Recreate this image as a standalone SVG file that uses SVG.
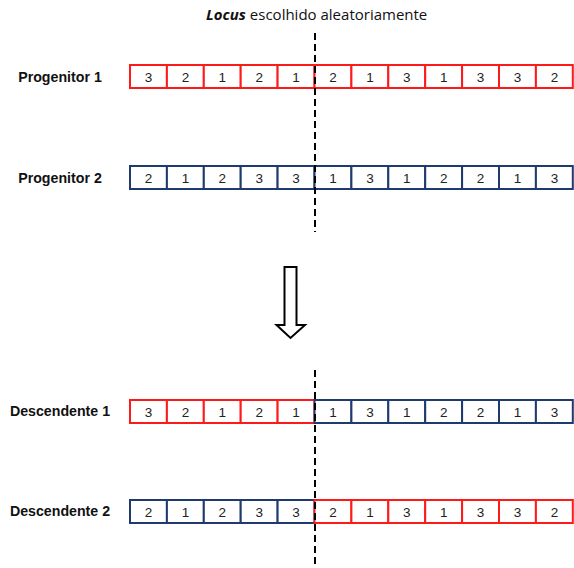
<svg xmlns="http://www.w3.org/2000/svg" width="574" height="568" viewBox="0 0 574 568">
  <style>
    .lbl { font-family: "Liberation Sans", Arial, sans-serif; font-weight: bold; font-size: 14.2px; fill: #111; text-anchor: middle; }
    .num { font-family: "Liberation Sans", Arial, sans-serif; font-size: 13.5px; fill: #222; text-anchor: middle; }
    .title { font-family: "Open Sans", "Liberation Sans", sans-serif; font-size: 15px; fill: #111; }
    .red rect { fill: #fff; stroke: #ff1a1a; stroke-width: 2; }
    .blue rect { fill: #fff; stroke: #1f3a6e; stroke-width: 2; }
    .cut { stroke: #000; stroke-width: 2; stroke-dasharray: 7 4; fill: none; }
  </style>

  <text class="title" x="206" y="20"><tspan font-weight="bold" font-style="italic">Locus</tspan> escolhido aleatoriamente</text>

  <!-- Parent 1 -->
  <g id="progenitor1">
    <text class="lbl" x="60" y="82">Progenitor 1</text>
    <g class="red">
      <rect x="130" y="65" width="36.9" height="23"/><rect x="166.9" y="65" width="36.9" height="23"/>
      <rect x="203.8" y="65" width="36.9" height="23"/><rect x="240.7" y="65" width="36.9" height="23"/>
      <rect x="277.6" y="65" width="36.9" height="23"/><rect x="314.5" y="65" width="36.9" height="23"/>
      <rect x="351.4" y="65" width="36.9" height="23"/><rect x="388.3" y="65" width="36.9" height="23"/>
      <rect x="425.2" y="65" width="36.9" height="23"/><rect x="462.1" y="65" width="36.9" height="23"/>
      <rect x="499" y="65" width="36.9" height="23"/><rect x="535.9" y="65" width="36.9" height="23"/>
    </g>
    <g class="num">
      <text x="148.5" y="81.5">3</text><text x="185.4" y="81.5">2</text><text x="222.3" y="81.5">1</text>
      <text x="259.2" y="81.5">2</text><text x="296.1" y="81.5">1</text><text x="333" y="81.5">2</text>
      <text x="369.9" y="81.5">1</text><text x="406.8" y="81.5">3</text><text x="443.7" y="81.5">1</text>
      <text x="480.6" y="81.5">3</text><text x="517.5" y="81.5">3</text><text x="554.4" y="81.5">2</text>
    </g>
  </g>

  <!-- Parent 2 -->
  <g id="progenitor2">
    <text class="lbl" x="60" y="183">Progenitor 2</text>
    <g class="blue">
      <rect x="130" y="166" width="36.9" height="23"/><rect x="166.9" y="166" width="36.9" height="23"/>
      <rect x="203.8" y="166" width="36.9" height="23"/><rect x="240.7" y="166" width="36.9" height="23"/>
      <rect x="277.6" y="166" width="36.9" height="23"/><rect x="314.5" y="166" width="36.9" height="23"/>
      <rect x="351.4" y="166" width="36.9" height="23"/><rect x="388.3" y="166" width="36.9" height="23"/>
      <rect x="425.2" y="166" width="36.9" height="23"/><rect x="462.1" y="166" width="36.9" height="23"/>
      <rect x="499" y="166" width="36.9" height="23"/><rect x="535.9" y="166" width="36.9" height="23"/>
    </g>
    <g class="num">
      <text x="148.5" y="182.5">2</text><text x="185.4" y="182.5">1</text><text x="222.3" y="182.5">2</text>
      <text x="259.2" y="182.5">3</text><text x="296.1" y="182.5">3</text><text x="333" y="182.5">1</text>
      <text x="369.9" y="182.5">3</text><text x="406.8" y="182.5">1</text><text x="443.7" y="182.5">2</text>
      <text x="480.6" y="182.5">2</text><text x="517.5" y="182.5">1</text><text x="554.4" y="182.5">3</text>
    </g>
  </g>

  <!-- Offspring 1 -->
  <g id="descendente1">
    <text class="lbl" x="60" y="416">Descendente 1</text>
    <g class="red">
      <rect x="130" y="400" width="36.9" height="23"/><rect x="166.9" y="400" width="36.9" height="23"/>
      <rect x="203.8" y="400" width="36.9" height="23"/><rect x="240.7" y="400" width="36.9" height="23"/>
      <rect x="277.6" y="400" width="36.9" height="23"/>
    </g>
    <g class="blue">
      <rect x="314.5" y="400" width="36.9" height="23"/>
      <rect x="351.4" y="400" width="36.9" height="23"/><rect x="388.3" y="400" width="36.9" height="23"/>
      <rect x="425.2" y="400" width="36.9" height="23"/><rect x="462.1" y="400" width="36.9" height="23"/>
      <rect x="499" y="400" width="36.9" height="23"/><rect x="535.9" y="400" width="36.9" height="23"/>
    </g>
    <g class="num">
      <text x="148.5" y="416.5">3</text><text x="185.4" y="416.5">2</text><text x="222.3" y="416.5">1</text>
      <text x="259.2" y="416.5">2</text><text x="296.1" y="416.5">1</text><text x="333" y="416.5">1</text>
      <text x="369.9" y="416.5">3</text><text x="406.8" y="416.5">1</text><text x="443.7" y="416.5">2</text>
      <text x="480.6" y="416.5">2</text><text x="517.5" y="416.5">1</text><text x="554.4" y="416.5">3</text>
    </g>
  </g>

  <!-- Offspring 2 -->
  <g id="descendente2">
    <text class="lbl" x="60" y="516">Descendente 2</text>
    <g class="blue">
      <rect x="130" y="500" width="36.9" height="23"/><rect x="166.9" y="500" width="36.9" height="23"/>
      <rect x="203.8" y="500" width="36.9" height="23"/><rect x="240.7" y="500" width="36.9" height="23"/>
      <rect x="277.6" y="500" width="36.9" height="23"/>
    </g>
    <g class="red">
      <rect x="314.5" y="500" width="36.9" height="23"/>
      <rect x="351.4" y="500" width="36.9" height="23"/><rect x="388.3" y="500" width="36.9" height="23"/>
      <rect x="425.2" y="500" width="36.9" height="23"/><rect x="462.1" y="500" width="36.9" height="23"/>
      <rect x="499" y="500" width="36.9" height="23"/><rect x="535.9" y="500" width="36.9" height="23"/>
    </g>
    <g class="num">
      <text x="148.5" y="516.5">2</text><text x="185.4" y="516.5">1</text><text x="222.3" y="516.5">2</text>
      <text x="259.2" y="516.5">3</text><text x="296.1" y="516.5">3</text><text x="333" y="516.5">2</text>
      <text x="369.9" y="516.5">1</text><text x="406.8" y="516.5">3</text><text x="443.7" y="516.5">1</text>
      <text x="480.6" y="516.5">3</text><text x="517.5" y="516.5">3</text><text x="554.4" y="516.5">2</text>
    </g>
  </g>

  <!-- Crossover cut lines and transition arrow -->
  <g id="connectors">
    <line class="cut" x1="315" y1="33" x2="315" y2="232"/>
    <line class="cut" x1="315" y1="370" x2="315" y2="568"/>
    <path d="M284.5,267 H296.5 V325 H305 L290.5,338 L276.5,325 H284.5 Z" fill="#fff" stroke="#000" stroke-width="2" stroke-linejoin="miter"/>
  </g>
</svg>
